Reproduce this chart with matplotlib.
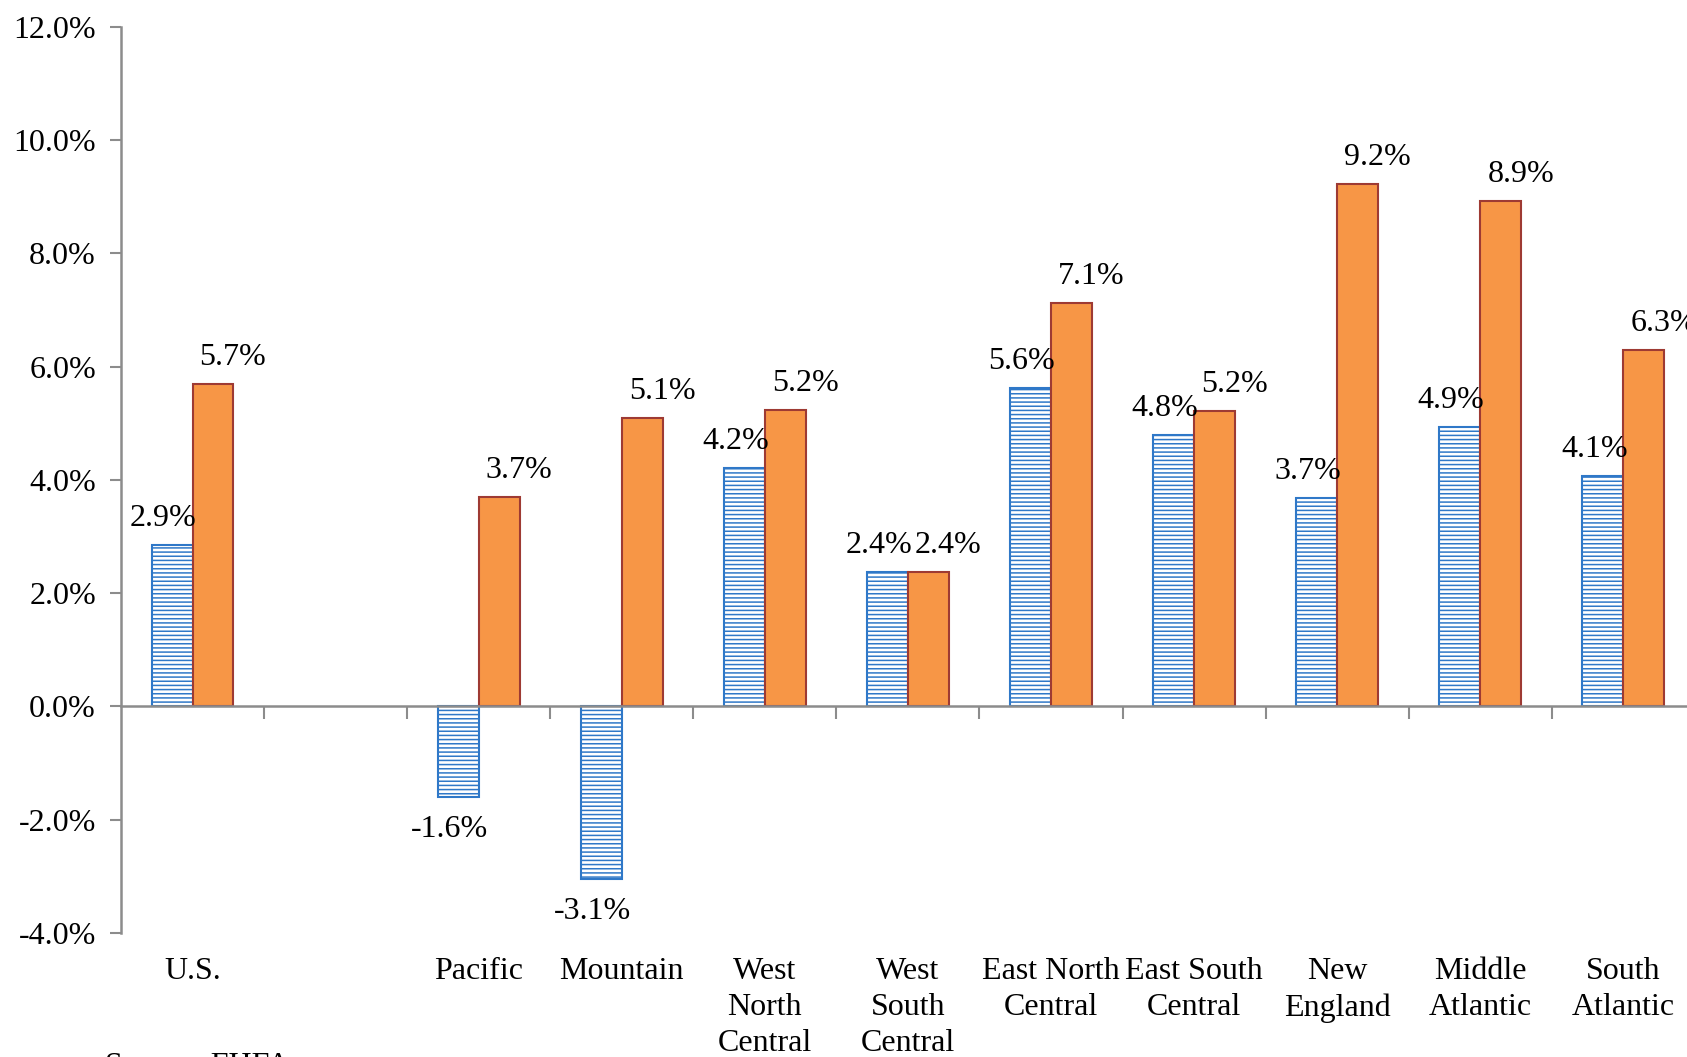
import matplotlib
matplotlib.use('Agg')
import matplotlib.pyplot as plt
import numpy as np

categories = ['U.S.', '', 'Pacific', 'Mountain', 'West\nNorth\nCentral', 'West\nSouth\nCentral',
              'East North\nCentral', 'East South\nCentral', 'New\nEngland', 'Middle\nAtlantic',
              'South\nAtlantic']
blue_vals = [2.85, np.nan, -1.6, -3.05, 4.22, 2.38, 5.62, 4.8, 3.68, 4.93, 4.07]
orange_vals = [5.7, np.nan, 3.7, 5.1, 5.23, 2.37, 7.12, 5.22, 9.23, 8.92, 6.3]
blue_labels = ['2.9%', '', '-1.6%', '-3.1%', '4.2%', '2.4%', '5.6%', '4.8%', '3.7%', '4.9%', '4.1%']
orange_labels = ['5.7%', '', '3.7%', '5.1%', '5.2%', '2.4%', '7.1%', '5.2%', '9.2%', '8.9%', '6.3%']
yticks = [-4, -2, 0, 2, 4, 6, 8, 10, 12]

plt.rcParams['font.family'] = ['Liberation Serif', 'DejaVu Serif']
plt.rcParams['hatch.linewidth'] = 1.1
plt.rcParams['hatch.color'] = '#4A7EC0'

fig = plt.figure(figsize=(16.87, 10.57), dpi=100)
ax = fig.add_axes([0.0717, 0.1173, 0.933, 0.8572])

x = np.arange(len(categories))
w = 0.286
grey = '#8C8C8C'

ax.bar(x - w / 2, blue_vals, w, color='white', edgecolor='#2F78C8', linewidth=1.5,
       hatch='----', zorder=2)
ax.bar(x + w / 2, orange_vals, w, color='#F79646', edgecolor='#9E3A33', linewidth=1.5, zorder=2)

fs = 23
for i in range(len(categories)):
    if not np.isnan(blue_vals[i]):
        v = blue_vals[i]
        off = 19 if v >= 0 else -23
        ax.annotate(blue_labels[i], (x[i] - w / 2 - 0.06, v), xytext=(0, off),
                    textcoords='offset points', ha='center', va='center', fontsize=fs,
                    annotation_clip=False, zorder=3)
    if not np.isnan(orange_vals[i]):
        v = orange_vals[i]
        ax.annotate(orange_labels[i], (x[i] + w / 2 + 0.14, v), xytext=(0, 19),
                    textcoords='offset points', ha='center', va='center', fontsize=fs,
                    annotation_clip=False, zorder=3)

ax.set_xlim(-0.5, len(categories) - 0.5)
ax.set_ylim(-4, 12)
ax.set_yticks(yticks)
ax.set_yticklabels(['%.1f%%' % t for t in yticks], fontsize=fs)

ax.spines['top'].set_visible(False)
ax.spines['right'].set_visible(False)
ax.spines['bottom'].set_position(('data', 0))
for s in ['left', 'bottom']:
    ax.spines[s].set_color(grey)
    ax.spines[s].set_linewidth(1.8)
ax.spines['bottom'].set_zorder(4)

ax.set_xticks(x)
ax.set_xticklabels([])
ax.tick_params(axis='x', which='major', length=0)
ax.set_xticks(x[:-1] + 0.5, minor=True)
ax.tick_params(axis='x', which='minor', length=9, width=1.5, color=grey, direction='out')
ax.tick_params(axis='y', length=8, width=1.5, color=grey, pad=10)

for i, c in enumerate(categories):
    ax.text(x[i], -0.027, c, transform=ax.get_xaxis_transform(), ha='center', va='top',
            fontsize=fs, linespacing=1.3)

fig.text(0.062, 0.005, 'Source: FHFA', fontsize=fs, ha='left', va='top')

fig.savefig('out.png', dpi=100)
